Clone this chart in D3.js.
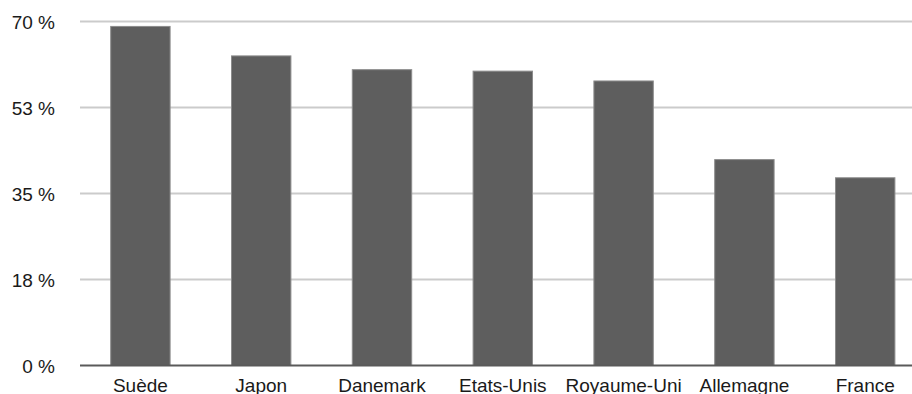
<!DOCTYPE html>
<html>
<head>
<meta charset="utf-8">
<script src="https://cdn.jsdelivr.net/npm/d3@7"></script>
<style>
  html, body { margin: 0; padding: 0; background: #fff; }
  svg { display: block; }
  text { font-family: "Liberation Sans", Arial, Helvetica, sans-serif; fill: #1a1a1a; }
</style>
</head>
<body>
<svg id="chart" width="912" height="394"></svg>
<script>
// Countries and their share (%)
const countries = ["Suède", "Japon", "Danemark", "Etats-Unis", "Royaume-Uni", "Allemagne", "France"];
const shares = [69.1, 63.1, 60.3, 60.0, 58.0, 42.0, 38.3];

// Y axis ticks and their labels
const tickValues = [0, 17.5, 35, 52.5, 70];
const tickLabels = ["0 %", "18 %", "35 %", "53 %", "70 %"];

const W = 912, H = 394;
const svg = d3.select("#chart");

const x = d3.scaleBand()
  .domain(countries)
  .range([80, 925.6])
  .paddingInner(0.5)
  .paddingOuter(0.25);

const y = d3.scaleLinear()
  .domain([0, 70])
  .range([365.5, 21.5]);

// Horizontal gridlines
svg.append("g")
  .selectAll("line")
  .data(tickValues.filter(v => v !== 0))
  .join("line")
  .attr("x1", 80)
  .attr("x2", W)
  .attr("y1", d => y(d))
  .attr("y2", d => y(d))
  .attr("stroke", "#cbcbcb")
  .attr("stroke-width", 2);

// Bars
svg.append("g")
  .selectAll("rect")
  .data(countries)
  .join("rect")
  .attr("x", d => x(d) + 0.5)
  .attr("y", (d, i) => y(shares[i]) + 0.5)
  .attr("width", x.bandwidth() - 1)
  .attr("height", (d, i) => y(0) - y(shares[i]) - 0.5)
  .attr("fill", "#5e5e5e")
  .attr("stroke", "#8c8c8c")
  .attr("stroke-width", 1);

// Baseline
svg.append("line")
  .attr("x1", 80)
  .attr("x2", W)
  .attr("y1", y(0))
  .attr("y2", y(0))
  .attr("stroke", "#5a5a5a")
  .attr("stroke-width", 2);

// Y axis labels
const yAxis = d3.axisLeft(y)
  .tickValues(tickValues)
  .tickFormat((d, i) => tickLabels[i])
  .tickSize(0)
  .tickPadding(0);

const gy = svg.append("g")
  .attr("transform", "translate(55,0)")
  .call(yAxis);
gy.select(".domain").remove();
gy.selectAll("text")
  .attr("font-size", 19)
  .attr("dy", "0.37em")
  .style("font-family", "'Liberation Sans', Arial, sans-serif")
  .attr("fill", "#1a1a1a");

// X axis labels
const xAxis = d3.axisBottom(x)
  .tickSize(0)
  .tickPadding(0);

const gx = svg.append("g")
  .attr("transform", "translate(0,392)")
  .call(xAxis);
gx.select(".domain").remove();
gx.selectAll("text")
  .attr("y", 0)
  .attr("dy", 0)
  .attr("font-size", 19)
  .style("font-family", "'Liberation Sans', Arial, sans-serif")
  .attr("fill", "#1a1a1a");
</script>
</body>
</html>
